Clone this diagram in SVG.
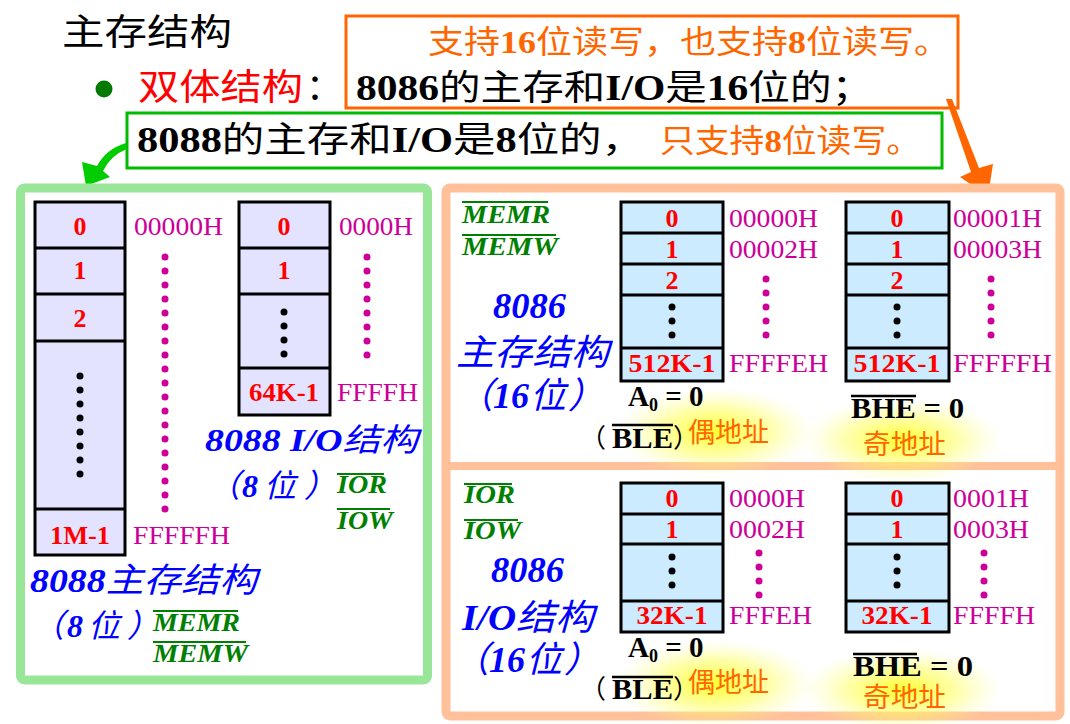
<svg xmlns="http://www.w3.org/2000/svg" width="1070" height="724" viewBox="0 0 1070 724">
<defs>
<radialGradient id="glow" cx="0.5" cy="0.5" r="0.5">
<stop offset="0" stop-color="#FFFF22" stop-opacity="0.95"/>
<stop offset="0.55" stop-color="#FFFF55" stop-opacity="0.5"/>
<stop offset="1" stop-color="#FFFF99" stop-opacity="0"/>
</radialGradient>
<style>
.cjk{font-family:"Liberation Serif","Noto Sans CJK SC",serif}
.sans{font-family:"Noto Sans CJK SC","Liberation Sans",sans-serif}
.b{font-weight:bold}
.cellL{fill:#E3E3FF;stroke:#000;stroke-width:3}
.cellR{fill:#CCEBFF;stroke:#000;stroke-width:3}
.num{font-family:"Liberation Serif",serif;font-weight:bold;font-size:26px;fill:#FF0000;text-anchor:middle}
.addr{font-family:"Liberation Serif",serif;font-size:26px;fill:#CC0099}
.sig{font-family:"Liberation Serif",serif;font-style:italic;font-weight:bold;font-size:26px;fill:#008000}
.ovl{stroke:#008000;stroke-width:2}
.blue{font-family:"Liberation Serif","Noto Sans CJK SC",serif;font-style:italic;fill:#0000FF}
.md{fill:#CC0099}
.bd{fill:#000}
.orange{fill:#FF6600}
.eq{font-family:"Liberation Serif",serif;font-weight:bold;font-size:29px;fill:#000}
.ovk{stroke:#000;stroke-width:2.5}
</style>
</defs>
<rect width="1070" height="724" fill="#FFFFFF"/>

<g id="title">
<text x="62" y="45" class="sans" font-size="36" fill="#000" textLength="170" lengthAdjust="spacingAndGlyphs">主存结构</text>
</g>

<g id="box8086">
<rect x="346" y="16" width="612" height="92" fill="none" stroke="#FF6600" stroke-width="3"/>
<text x="428" y="53" class="cjk orange" font-size="32" textLength="522" lengthAdjust="spacingAndGlyphs">支持<tspan class="b">16</tspan>位读写，也支持<tspan class="b">8</tspan>位读写。</text>
<text x="356" y="100" class="cjk" font-size="35" fill="#000" textLength="517" lengthAdjust="spacingAndGlyphs"><tspan class="b">8086</tspan>的主存和<tspan class="b">I/O</tspan>是<tspan class="b">16</tspan>位的；</text>
</g>

<g id="bullet">
<circle cx="104" cy="89" r="8.5" fill="#007A00"/>
<text x="138" y="100" class="sans" font-size="36" fill="#FF0000" textLength="165" lengthAdjust="spacingAndGlyphs">双体结构</text>
<text x="306" y="100" class="sans" font-size="36" fill="#000">：</text>
</g>

<g id="box8088">
<rect x="127" y="113" width="815" height="55" fill="none" stroke="#00BB00" stroke-width="3"/>
<text x="137" y="152" class="cjk" font-size="35" fill="#000" textLength="507" lengthAdjust="spacingAndGlyphs"><tspan class="b">8088</tspan>的主存和<tspan class="b">I/O</tspan>是<tspan class="b">8</tspan>位的，</text>
<text x="660" y="152" class="cjk orange" font-size="32" textLength="261" lengthAdjust="spacingAndGlyphs">只支持<tspan class="b">8</tspan>位读写。</text>
</g>

<g id="connectors">
<path d="M126,143 Q106,149 97,166 L82,162 L86,186 L110,177 L103,171 Q111,155 127,149 Z" fill="#00CC00"/>
<path d="M946,99 L952,99 L979,168 L993,164 L988,196 L960,177 L971,172 Z" fill="#FF6600"/>
</g>

<g id="panel8088">
<rect x="20.5" y="188" width="407" height="492" rx="4" fill="#FFFFFF" stroke="#99E699" stroke-width="9"/>
</g>

<g id="mem8088">
<rect x="35" y="202" width="90" height="353" class="cellL"/>
<line x1="35" y1="248" x2="125" y2="248" stroke="#000" stroke-width="3"/>
<line x1="35" y1="294" x2="125" y2="294" stroke="#000" stroke-width="3"/>
<line x1="35" y1="341" x2="125" y2="341" stroke="#000" stroke-width="3"/>
<line x1="35" y1="509" x2="125" y2="509" stroke="#000" stroke-width="3"/>
<text x="80" y="235" class="num">0</text>
<text x="80" y="279" class="num">1</text>
<text x="80" y="327" class="num">2</text>
<text x="80" y="544" class="num" textLength="60" lengthAdjust="spacingAndGlyphs">1M-1</text>
<g class="bd">
<circle cx="80" cy="376" r="3.5"/><circle cx="80" cy="390" r="3.5"/><circle cx="80" cy="404" r="3.5"/><circle cx="80" cy="418" r="3.5"/>
<circle cx="80" cy="432" r="3.5"/><circle cx="80" cy="446" r="3.5"/><circle cx="80" cy="460" r="3.5"/><circle cx="80" cy="474" r="3.5"/>
</g>
<text x="134" y="235" class="addr" textLength="89" lengthAdjust="spacingAndGlyphs">00000H</text>
<text x="133" y="544" class="addr" textLength="97" lengthAdjust="spacingAndGlyphs">FFFFFH</text>
<g class="md">
<circle cx="165" cy="257" r="3.5"/><circle cx="165" cy="271" r="3.5"/><circle cx="165" cy="285" r="3.5"/><circle cx="165" cy="299" r="3.5"/>
<circle cx="165" cy="313" r="3.5"/><circle cx="165" cy="327" r="3.5"/><circle cx="165" cy="341" r="3.5"/><circle cx="165" cy="355" r="3.5"/>
<circle cx="165" cy="369" r="3.5"/><circle cx="165" cy="383" r="3.5"/><circle cx="165" cy="397" r="3.5"/><circle cx="165" cy="411" r="3.5"/>
<circle cx="165" cy="425" r="3.5"/><circle cx="165" cy="439" r="3.5"/><circle cx="165" cy="453" r="3.5"/><circle cx="165" cy="467" r="3.5"/>
<circle cx="165" cy="481" r="3.5"/><circle cx="165" cy="495" r="3.5"/><circle cx="165" cy="509" r="3.5"/>
</g>
<text x="30" y="592" class="blue b" font-size="34" textLength="227" lengthAdjust="spacingAndGlyphs">8088<tspan font-weight="normal">主存结构</tspan></text>
<text x="32" y="637" class="blue" font-size="32">（<tspan x="67" class="b">8</tspan><tspan x="88">位</tspan><tspan x="127">）</tspan></text>
<line x1="153" y1="611" x2="238" y2="611" class="ovl"/>
<text x="153" y="631" class="sig" textLength="87" lengthAdjust="spacingAndGlyphs">MEMR</text>
<line x1="153" y1="642" x2="246" y2="642" class="ovl"/>
<text x="153" y="662" class="sig" textLength="95" lengthAdjust="spacingAndGlyphs">MEMW</text>
</g>

<g id="io8088">
<rect x="239" y="202" width="91" height="213" class="cellL"/>
<line x1="239" y1="248" x2="330" y2="248" stroke="#000" stroke-width="3"/>
<line x1="239" y1="294" x2="330" y2="294" stroke="#000" stroke-width="3"/>
<line x1="239" y1="368" x2="330" y2="368" stroke="#000" stroke-width="3"/>
<text x="284" y="235" class="num">0</text>
<text x="284" y="279" class="num">1</text>
<text x="284" y="401" class="num" textLength="70" lengthAdjust="spacingAndGlyphs">64K-1</text>
<g class="bd">
<circle cx="284" cy="312" r="3.5"/><circle cx="284" cy="326" r="3.5"/><circle cx="284" cy="340" r="3.5"/><circle cx="284" cy="354" r="3.5"/>
</g>
<text x="339" y="235" class="addr" textLength="74" lengthAdjust="spacingAndGlyphs">0000H</text>
<text x="337" y="401" class="addr" textLength="81" lengthAdjust="spacingAndGlyphs">FFFFH</text>
<g class="md">
<circle cx="367" cy="257" r="3.5"/><circle cx="367" cy="271" r="3.5"/><circle cx="367" cy="285" r="3.5"/><circle cx="367" cy="299" r="3.5"/>
<circle cx="367" cy="313" r="3.5"/><circle cx="367" cy="327" r="3.5"/><circle cx="367" cy="341" r="3.5"/><circle cx="367" cy="355" r="3.5"/>
</g>
<text x="205" y="451" class="blue b" font-size="32" textLength="213" lengthAdjust="spacingAndGlyphs">8088 I/O<tspan font-weight="normal">结构</tspan></text>
<text x="208" y="497" class="blue" font-size="32">（<tspan x="242" class="b">8</tspan><tspan x="264">位</tspan><tspan x="304">）</tspan></text>
<line x1="337" y1="474" x2="384" y2="474" class="ovl"/>
<text x="337" y="493" class="sig" textLength="50" lengthAdjust="spacingAndGlyphs">IOR</text>
<line x1="337" y1="509" x2="390" y2="509" class="ovl"/>
<text x="337" y="529" class="sig" textLength="56" lengthAdjust="spacingAndGlyphs">IOW</text>
</g>

<g id="panel8086">
<rect x="446" y="188" width="614" height="528" rx="4" fill="#FFFFFF" stroke="#FFC09A" stroke-width="9"/>
<line x1="446" y1="466" x2="1060" y2="466" stroke="#FFC09A" stroke-width="8"/>
<ellipse cx="715" cy="432" rx="100" ry="44" fill="url(#glow)"/>
<ellipse cx="902" cy="440" rx="100" ry="42" fill="url(#glow)"/>
<ellipse cx="715" cy="684" rx="100" ry="44" fill="url(#glow)"/>
<ellipse cx="902" cy="690" rx="100" ry="42" fill="url(#glow)"/>
</g>

<g id="mem8086">
<line x1="462" y1="202" x2="548" y2="202" class="ovl"/>
<text x="462" y="223" class="sig" font-size="27" textLength="88" lengthAdjust="spacingAndGlyphs">MEMR</text>
<line x1="462" y1="235" x2="556" y2="235" class="ovl"/>
<text x="462" y="255" class="sig" font-size="27" textLength="96" lengthAdjust="spacingAndGlyphs">MEMW</text>
<text x="493" y="318" class="blue b" font-size="36" textLength="73" lengthAdjust="spacingAndGlyphs">8086</text>
<text x="456" y="365" class="blue" font-size="36" textLength="153" lengthAdjust="spacingAndGlyphs">主存结构</text>
<text x="457" y="408" class="blue" font-size="36">（<tspan x="493" class="b">16</tspan><tspan x="530">位</tspan><tspan x="568">）</tspan></text>

<rect x="621" y="202" width="102" height="179" class="cellR"/>
<line x1="621" y1="233" x2="723" y2="233" stroke="#000" stroke-width="3"/>
<line x1="621" y1="264" x2="723" y2="264" stroke="#000" stroke-width="3"/>
<line x1="621" y1="295" x2="723" y2="295" stroke="#000" stroke-width="3"/>
<line x1="621" y1="348" x2="723" y2="348" stroke="#000" stroke-width="3"/>
<text x="672" y="227" class="num">0</text>
<text x="672" y="258" class="num">1</text>
<text x="672" y="289" class="num">2</text>
<text x="672" y="372" class="num" textLength="87" lengthAdjust="spacingAndGlyphs">512K-1</text>
<g class="bd"><circle cx="672" cy="307" r="3.5"/><circle cx="672" cy="321" r="3.5"/><circle cx="672" cy="335" r="3.5"/></g>
<text x="729" y="227" class="addr" textLength="89" lengthAdjust="spacingAndGlyphs">00000H</text>
<text x="729" y="258" class="addr" textLength="89" lengthAdjust="spacingAndGlyphs">00002H</text>
<text x="729" y="372" class="addr" textLength="99" lengthAdjust="spacingAndGlyphs">FFFFEH</text>
<g class="md"><circle cx="766" cy="279" r="3.5"/><circle cx="766" cy="293" r="3.5"/><circle cx="766" cy="307" r="3.5"/><circle cx="766" cy="321" r="3.5"/><circle cx="766" cy="335" r="3.5"/></g>

<rect x="846" y="202" width="103" height="179" class="cellR"/>
<line x1="846" y1="233" x2="949" y2="233" stroke="#000" stroke-width="3"/>
<line x1="846" y1="264" x2="949" y2="264" stroke="#000" stroke-width="3"/>
<line x1="846" y1="295" x2="949" y2="295" stroke="#000" stroke-width="3"/>
<line x1="846" y1="348" x2="949" y2="348" stroke="#000" stroke-width="3"/>
<text x="897" y="227" class="num">0</text>
<text x="897" y="258" class="num">1</text>
<text x="897" y="289" class="num">2</text>
<text x="897" y="372" class="num" textLength="87" lengthAdjust="spacingAndGlyphs">512K-1</text>
<g class="bd"><circle cx="897" cy="307" r="3.5"/><circle cx="897" cy="321" r="3.5"/><circle cx="897" cy="335" r="3.5"/></g>
<text x="953" y="227" class="addr" textLength="89" lengthAdjust="spacingAndGlyphs">00001H</text>
<text x="953" y="258" class="addr" textLength="89" lengthAdjust="spacingAndGlyphs">00003H</text>
<text x="953" y="372" class="addr" textLength="99" lengthAdjust="spacingAndGlyphs">FFFFFH</text>
<g class="md"><circle cx="991" cy="279" r="3.5"/><circle cx="991" cy="293" r="3.5"/><circle cx="991" cy="307" r="3.5"/><circle cx="991" cy="321" r="3.5"/><circle cx="991" cy="335" r="3.5"/></g>

<text x="628" y="406" class="eq">A<tspan font-size="18" dy="5">0</tspan><tspan dy="-5"> = 0</tspan></text>
<line x1="612" y1="425" x2="673" y2="425" class="ovk"/>
<text x="580" y="447" class="sans" font-size="26" fill="#000">（<tspan x="612" y="448" class="eq" textLength="61" lengthAdjust="spacingAndGlyphs">BLE</tspan><tspan x="673" y="447">）</tspan><tspan x="688" y="442" class="orange" font-size="27">偶地址</tspan></text>
<line x1="851" y1="396" x2="916" y2="396" class="ovk"/>
<text x="851" y="418" class="eq" textLength="113" lengthAdjust="spacingAndGlyphs">BHE = 0</text>
<text x="863" y="454" class="sans orange" font-size="27" textLength="83" lengthAdjust="spacingAndGlyphs">奇地址</text>
</g>

<g id="io8086">
<line x1="464" y1="484" x2="512" y2="484" class="ovl"/>
<text x="464" y="503" class="sig" textLength="51" lengthAdjust="spacingAndGlyphs">IOR</text>
<line x1="464" y1="520" x2="518" y2="520" class="ovl"/>
<text x="464" y="539" class="sig" textLength="57" lengthAdjust="spacingAndGlyphs">IOW</text>
<text x="491" y="582" class="blue b" font-size="36" textLength="73" lengthAdjust="spacingAndGlyphs">8086</text>
<text x="462" y="630" class="blue b" font-size="36" textLength="132" lengthAdjust="spacingAndGlyphs">I/O<tspan font-weight="normal">结构</tspan></text>
<text x="453" y="672" class="blue" font-size="36">（<tspan x="489" class="b">16</tspan><tspan x="526">位</tspan><tspan x="564">）</tspan></text>

<rect x="621" y="483" width="102" height="149" class="cellR"/>
<line x1="621" y1="514" x2="723" y2="514" stroke="#000" stroke-width="3"/>
<line x1="621" y1="544" x2="723" y2="544" stroke="#000" stroke-width="3"/>
<line x1="621" y1="601" x2="723" y2="601" stroke="#000" stroke-width="3"/>
<text x="672" y="507" class="num">0</text>
<text x="672" y="538" class="num">1</text>
<text x="672" y="624" class="num" textLength="71" lengthAdjust="spacingAndGlyphs">32K-1</text>
<g class="bd"><circle cx="672" cy="557" r="3.5"/><circle cx="672" cy="571" r="3.5"/><circle cx="672" cy="585" r="3.5"/></g>
<text x="729" y="507" class="addr" textLength="76" lengthAdjust="spacingAndGlyphs">0000H</text>
<text x="729" y="538" class="addr" textLength="76" lengthAdjust="spacingAndGlyphs">0002H</text>
<text x="729" y="624" class="addr" textLength="83" lengthAdjust="spacingAndGlyphs">FFFEH</text>
<g class="md"><circle cx="759" cy="553" r="3.5"/><circle cx="759" cy="567" r="3.5"/><circle cx="759" cy="581" r="3.5"/><circle cx="759" cy="595" r="3.5"/></g>

<rect x="846" y="483" width="103" height="149" class="cellR"/>
<line x1="846" y1="514" x2="949" y2="514" stroke="#000" stroke-width="3"/>
<line x1="846" y1="544" x2="949" y2="544" stroke="#000" stroke-width="3"/>
<line x1="846" y1="601" x2="949" y2="601" stroke="#000" stroke-width="3"/>
<text x="897" y="507" class="num">0</text>
<text x="897" y="538" class="num">1</text>
<text x="897" y="624" class="num" textLength="71" lengthAdjust="spacingAndGlyphs">32K-1</text>
<g class="bd"><circle cx="897" cy="557" r="3.5"/><circle cx="897" cy="571" r="3.5"/><circle cx="897" cy="585" r="3.5"/></g>
<text x="953" y="507" class="addr" textLength="76" lengthAdjust="spacingAndGlyphs">0001H</text>
<text x="953" y="538" class="addr" textLength="76" lengthAdjust="spacingAndGlyphs">0003H</text>
<text x="953" y="624" class="addr" textLength="82" lengthAdjust="spacingAndGlyphs">FFFFH</text>
<g class="md"><circle cx="984" cy="553" r="3.5"/><circle cx="984" cy="567" r="3.5"/><circle cx="984" cy="581" r="3.5"/><circle cx="984" cy="595" r="3.5"/></g>

<text x="628" y="657" class="eq">A<tspan font-size="18" dy="5">0</tspan><tspan dy="-5"> = 0</tspan></text>
<line x1="612" y1="677" x2="673" y2="677" class="ovk"/>
<text x="580" y="698" class="sans" font-size="26" fill="#000">（<tspan x="612" y="699" class="eq" textLength="61" lengthAdjust="spacingAndGlyphs">BLE</tspan><tspan x="673" y="698">）</tspan><tspan x="688" y="692" class="orange" font-size="27">偶地址</tspan></text>
<line x1="853" y1="654" x2="917" y2="654" class="ovk"/>
<text x="853" y="676" class="eq" textLength="120" lengthAdjust="spacingAndGlyphs">BHE = 0</text>
<text x="863" y="707" class="sans orange" font-size="27" textLength="83" lengthAdjust="spacingAndGlyphs">奇地址</text>
</g>
</svg>
